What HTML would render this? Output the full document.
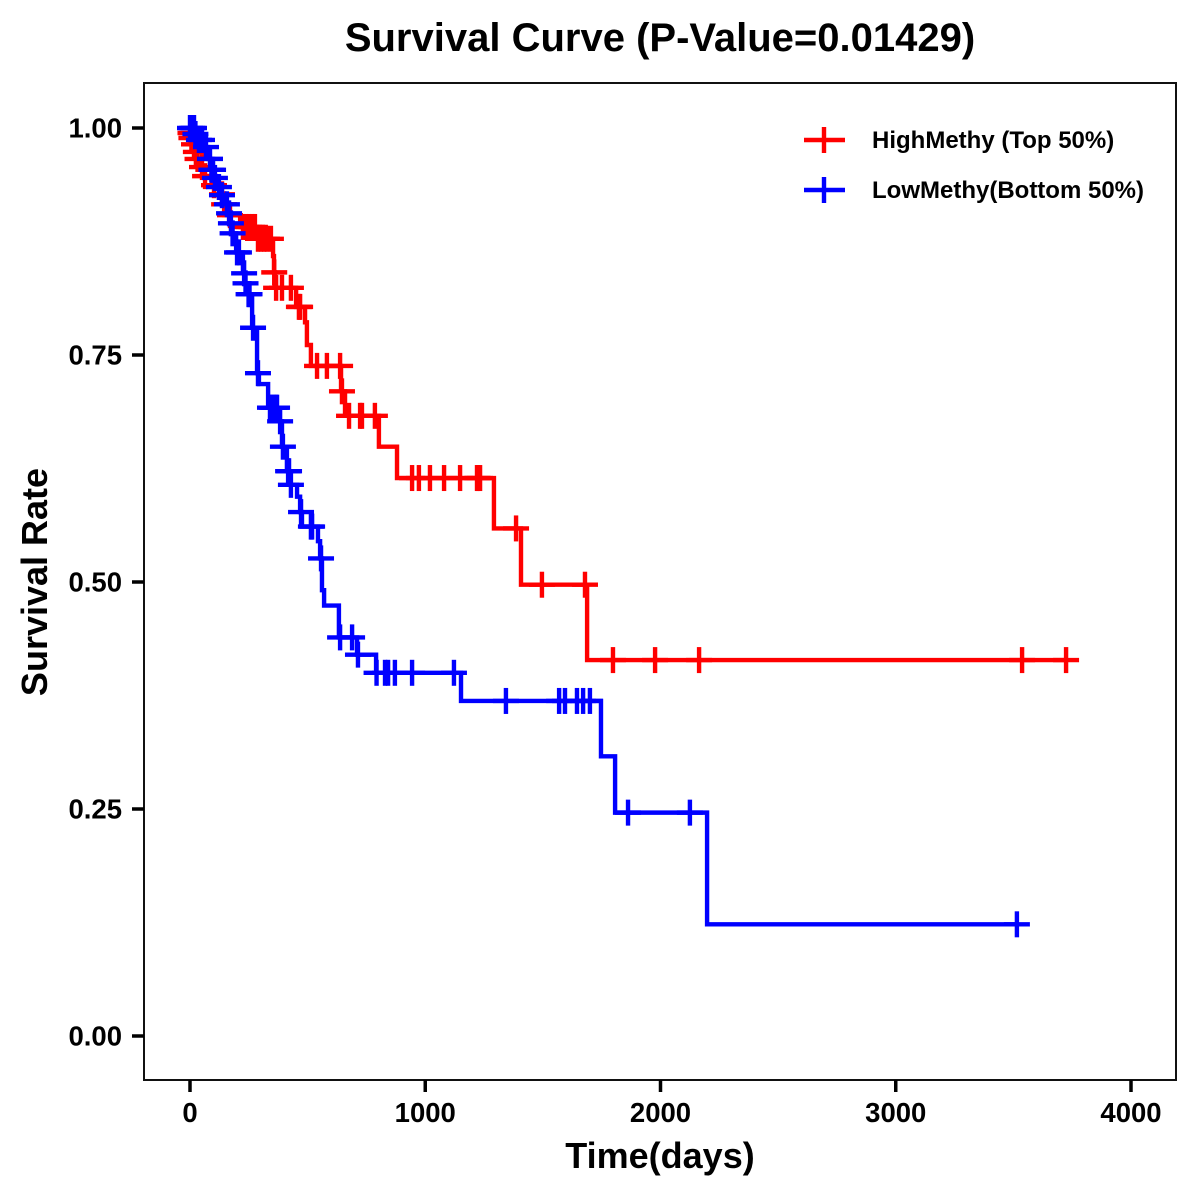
<!DOCTYPE html>
<html>
<head>
<meta charset="utf-8">
<title>Survival Curve</title>
<style>
html,body{margin:0;padding:0;background:#fff;}
svg{display:block;font-family:"Liberation Sans",Arial,sans-serif;font-weight:bold;}
</style>
</head>
<body>
<svg id="chart" xmlns="http://www.w3.org/2000/svg" width="1200" height="1200" viewBox="0 0 1200 1200">
<rect x="0" y="0" width="1200" height="1200" fill="#fff"/>
<text x="660" y="51" text-anchor="middle" font-size="40">Survival Curve (P-Value=0.01429)</text>
<text x="660" y="1168" text-anchor="middle" font-size="36">Time(days)</text>
<text transform="translate(47,582) rotate(-90)" text-anchor="middle" font-size="36">Survival Rate</text>
<rect x="144" y="83" width="1032" height="997" fill="none" stroke="#111" stroke-width="2"/>
<g id="axes"></g>
<g id="series"></g>
<g>
<g>
<line x1="804" x2="845" y1="140" y2="140" stroke="#f00" stroke-width="4.4"/>
<line x1="824" x2="824" y1="127" y2="153" stroke="#f00" stroke-width="4.4"/>
<text x="872" y="148" font-size="24">HighMethy (Top 50%)</text>
</g>
<g>
<line x1="804" x2="845" y1="190" y2="190" stroke="#00f" stroke-width="4.4"/>
<line x1="824" x2="824" y1="177" y2="203" stroke="#00f" stroke-width="4.4"/>
<text x="872" y="198" font-size="24">LowMethy(Bottom 50%)</text>
</g>
</g>
</svg>
<script>
var xTicks = [0, 1000, 2000, 3000, 4000];
var yTicks = [0, 0.25, 0.5, 0.75, 1];
var yTickLabels = ["0.00", "0.25", "0.50", "0.75", "1.00"];

var highDropTimes = [0,4,13,21,30,47,60,94,128,140,162,213,285,353,357,361,451,489,497,514,642,659,803,880,1292,1407,1688];
var highSurvival = [0.9945,0.989,0.982,0.9736,0.9659,0.957,0.947,0.937,0.927,0.916,0.904,0.891,0.878,0.859,0.841,0.824,0.803,0.786,0.761,0.738,0.710,0.683,0.649,0.6145,0.559,0.497,0.414];
var highCensorTimes = [2,6,17,25,32,51,64,102,136,145,170,225,238,251,264,276,289,302,315,327,344,358,366,391,429,463,468,540,582,638,646,676,723,731,786,944,973,1020,1080,1148,1220,1224,1233,1386,1496,1679,1798,1977,2164,3537,3724];
var highEndTime = 3724;

var lowDropTimes = [21,34,60,77,89,102,119,132,153,162,170,179,196,225,234,247,264,285,293,332,378,391,412,425,455,468,476,544,553,561,570,633,710,791,1152,1747,1807,2198];
var lowSurvival = [0.9934,0.9868,0.979,0.966,0.954,0.945,0.935,0.926,0.916,0.906,0.895,0.884,0.863,0.840,0.829,0.817,0.780,0.730,0.718,0.692,0.677,0.649,0.622,0.607,0.594,0.577,0.561,0.545,0.526,0.491,0.474,0.439,0.420,0.400,0.369,0.308,0.246,0.123];
var lowCensorTimes = [0,10,17,23,38,51,68,85,91,98,106,123,136,157,166,174,181,200,208,230,236,249,253,268,289,340,349,357,366,370,383,395,417,421,429,472,514,519,557,638,689,714,793,829,842,871,944,1122,1343,1569,1594,1645,1671,1700,1862,2125,3515];
var lowEndTime = 3515;

var NS = "http://www.w3.org/2000/svg";
function xScale(t) { return 190 + t * 0.23525; }
function yScale(s) { return 1036 - s * 908; }

function levelAt(drops, values, t) {
  var s = 1;
  for (var i = 0; i < drops.length; i++) {
    if (drops[i] <= t) { s = values[i]; }
  }
  return s;
}

function makeLine(parent, x1, y1, x2, y2, color, width) {
  var l = document.createElementNS(NS, "line");
  l.setAttribute("x1", x1);
  l.setAttribute("y1", y1);
  l.setAttribute("x2", x2);
  l.setAttribute("y2", y2);
  l.setAttribute("stroke", color);
  l.setAttribute("stroke-width", width);
  parent.appendChild(l);
  return l;
}

function drawAxes() {
  var g = document.getElementById("axes");
  xTicks.forEach(function (v) {
    var px = xScale(v);
    var tick = makeLine(g, px, 1080, px, 1092, "#000", 3.5);
    
    
    var t = document.createElementNS(NS, "text");
    
    
    t.setAttribute("x", px);
    t.setAttribute("y", 1122);
    t.setAttribute("text-anchor", "middle");
    t.setAttribute("font-size", "27.5");
    t.textContent = String(v);
    g.appendChild(t);
  });
  yTicks.forEach(function (v, i) {
    var py = yScale(v);
    var tick = makeLine(g, 132, py, 144, py, "#000", 3.5);
    
    
    var t = document.createElementNS(NS, "text");
    
    
    t.setAttribute("x", 122);
    t.setAttribute("y", py + 9.5);
    t.setAttribute("text-anchor", "end");
    t.setAttribute("font-size", "27.5");
    t.textContent = yTickLabels[i];
    g.appendChild(t);
  });
}

function drawSeries(name, color, drops, values, censors, endTime) {
  var root = document.getElementById("series");
  var g = document.createElementNS(NS, "g");
  
  
  root.appendChild(g);
  var d = "M" + xScale(0) + " " + yScale(1);
  var current = 1;
  for (var i = 0; i < drops.length; i++) {
    d += "L" + xScale(drops[i]) + " " + yScale(current);
    d += "L" + xScale(drops[i]) + " " + yScale(values[i]);
    current = values[i];
  }
  d += "L" + xScale(endTime) + " " + yScale(current);
  var path = document.createElementNS(NS, "path");
  
  
  path.setAttribute("d", d);
  path.setAttribute("fill", "none");
  path.setAttribute("stroke", color);
  path.setAttribute("stroke-width", 4.4);
  g.appendChild(path);
  censors.forEach(function (t) {
    var px = xScale(t);
    var py = yScale(levelAt(drops, values, t));
    var h = makeLine(g, px - 13, py, px + 13, py, color, 4.4);
    
    
    var v = makeLine(g, px, py - 13, px, py + 13, color, 4.4);
    
    
  });
}

drawAxes();
drawSeries("high", "#ff0000", highDropTimes, highSurvival, highCensorTimes, highEndTime);
drawSeries("low", "#0000ff", lowDropTimes, lowSurvival, lowCensorTimes, lowEndTime);
</script>
</body>
</html>
